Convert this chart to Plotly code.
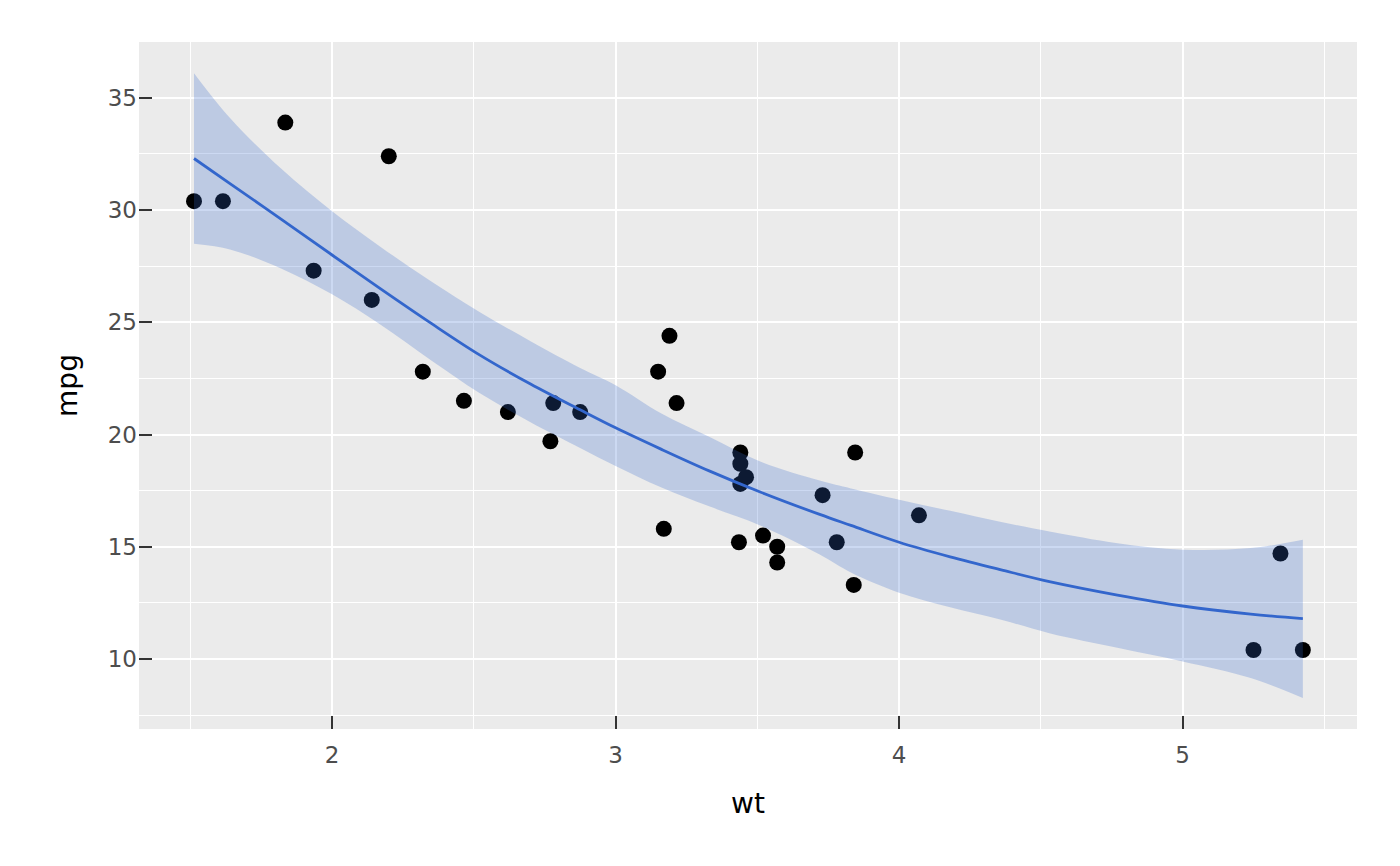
import plotly.graph_objects as go

# mtcars: weight (1000 lbs) and miles per gallon
wt = [2.620, 2.875, 2.320, 3.215, 3.440, 3.460, 3.570, 3.190, 3.150, 3.440,
      3.440, 4.070, 3.730, 3.780, 5.250, 5.424, 5.345, 2.200, 1.615, 1.835,
      2.465, 3.520, 3.435, 3.840, 3.845, 1.935, 2.140, 1.513, 3.170, 2.770,
      3.570, 2.780]
mpg = [21.0, 21.0, 22.8, 21.4, 18.7, 18.1, 14.3, 24.4, 22.8, 19.2,
       17.8, 16.4, 17.3, 15.2, 10.4, 10.4, 14.7, 32.4, 30.4, 33.9,
       21.5, 15.5, 15.2, 13.3, 19.2, 27.3, 26.0, 30.4, 15.8, 19.7,
       15.0, 21.4]

# loess smooth and its confidence band
smooth_x = [1.513, 1.64, 1.82, 2.0, 2.17, 2.35, 2.52, 2.70, 2.875, 3.0, 3.16, 3.33,
            3.51, 3.72, 3.83, 4.0, 4.18, 4.36, 4.53, 4.77, 5.0, 5.24, 5.424]
smooth_fit = [32.3, 31.18, 29.6, 28.0, 26.5, 24.95, 23.55, 22.25, 21.1, 20.3, 19.35, 18.38,
              17.44, 16.44, 15.95, 15.2, 14.55, 13.97, 13.45, 12.85, 12.36, 12.0, 11.8]
smooth_upper = [36.1, 34.1, 31.85, 29.95, 28.37, 26.82, 25.46, 24.16, 22.97, 22.2, 20.95, 19.9,
                18.8, 17.95, 17.6, 17.1, 16.6, 16.1, 15.68, 15.16, 14.87, 14.94, 15.31]
smooth_lower = [28.5, 28.25, 27.4, 26.25, 24.9, 23.3, 21.85, 20.55, 19.4, 18.6, 17.65, 16.8,
                15.95, 14.65, 13.85, 12.95, 12.3, 11.75, 11.15, 10.5, 9.89, 9.15, 8.26]

fig = go.Figure()

fig.add_trace(go.Scatter(
    x=wt, y=mpg, mode="markers",
    marker=dict(size=16, color="black", line=dict(width=0)),
    showlegend=False))

# confidence band (drawn over the points, as ggplot does)
fig.add_trace(go.Scatter(
    x=smooth_x, y=smooth_lower, mode="lines",
    line=dict(width=0, shape="spline", color="rgba(0,0,0,0)"),
    showlegend=False, hoverinfo="skip"))
fig.add_trace(go.Scatter(
    x=smooth_x, y=smooth_upper, mode="lines",
    line=dict(width=0, shape="spline", color="rgba(0,0,0,0)"),
    fill="tonexty", fillcolor="rgba(51,102,204,0.25)",
    showlegend=False, hoverinfo="skip"))

fig.add_trace(go.Scatter(
    x=smooth_x, y=smooth_fit, mode="lines",
    line=dict(width=2.8, shape="spline", color="#3366CC"),
    showlegend=False))

axis_common = dict(
    showgrid=True, gridcolor="white", gridwidth=2,
    zeroline=False, showline=False,
    ticks="inside", ticklen=13, tickwidth=1.6, tickcolor="#333333",
    tickfont=dict(family="DejaVu Sans", size=23, color="#4D4D4D"),
)

fig.update_xaxes(
    axis_common,
    range=[1.319, 5.615], tickvals=[2, 3, 4, 5],
    minor=dict(dtick=0.5, showgrid=True, gridcolor="white", gridwidth=1, ticks=""),
    ticklabelstandoff=10,
    title=dict(text="wt", font=dict(family="DejaVu Sans", size=28, color="black"),
               standoff=26),
)
fig.update_yaxes(
    axis_common,
    range=[6.88, 37.49], dtick=5, tick0=0,
    minor=dict(dtick=2.5, showgrid=True, gridcolor="white", gridwidth=1, ticks=""),
    ticklabelstandoff=1,
    title=dict(text="mpg", font=dict(family="DejaVu Sans", size=28, color="black"),
               standoff=21),
)

# page body adds an 8px offset, so the figure is sized 1384x850
fig.update_layout(
    width=1384, height=850,
    margin=dict(l=131, r=35, t=34, b=129),
    paper_bgcolor="white",
    plot_bgcolor="#EBEBEB",
    font=dict(family="DejaVu Sans"),
    hovermode="closest",
)

fig.write_html("out.html")
